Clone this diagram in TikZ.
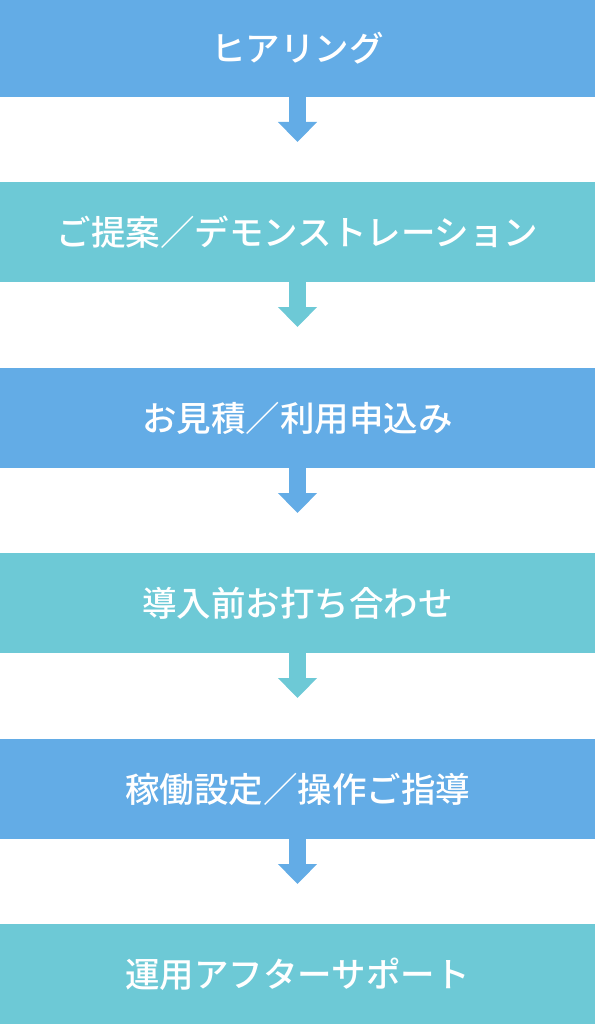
\documentclass[tikz,border=0pt]{standalone}
\usepackage{fontspec}
\newfontfamily\jp{Noto Sans CJK JP Medium}
\usetikzlibrary{arrows.meta,calc}
\definecolor{barblue}{HTML}{63ACE6}
\definecolor{barteal}{HTML}{6DC9D6}
\tikzset{
  bar/.style={minimum width=595pt,minimum height=100pt,inner sep=0pt,outer sep=0pt,
    text=white,font=\jp\fontsize{34.5pt}{40pt}\selectfont},
  flowarrow/.style={line width=17pt,-{Triangle[width=38pt,length=20pt]}}
}
\begin{document}
\begin{tikzpicture}[x=1pt,y=-1pt]
\useasboundingbox (0,0) rectangle (595,1024);
\node[bar,fill=barblue,minimum height=97pt] (b1) at (297.5,48.5) {ヒアリング};
\node[bar,fill=barteal] (b2) at (297.5,232) {ご提案／デモンストレーション};
\node[bar,fill=barblue] (b3) at (297.5,418) {お見積／利用申込み};
\node[bar,fill=barteal] (b4) at (297.5,603) {導入前お打ち合わせ};
\node[bar,fill=barblue] (b5) at (297.5,789) {稼働設定／操作ご指導};
\node[bar,fill=barteal] (b6) at (297.5,974) {運用アフターサポート};
\foreach \i/\c in {1/barblue,2/barteal,3/barblue,4/barteal,5/barblue}{
  \coordinate (t\i) at ($(b\i.south)+(0,45)$);
  \draw[flowarrow,\c] (b\i.south) -- (t\i);
}
\end{tikzpicture}
\end{document}
